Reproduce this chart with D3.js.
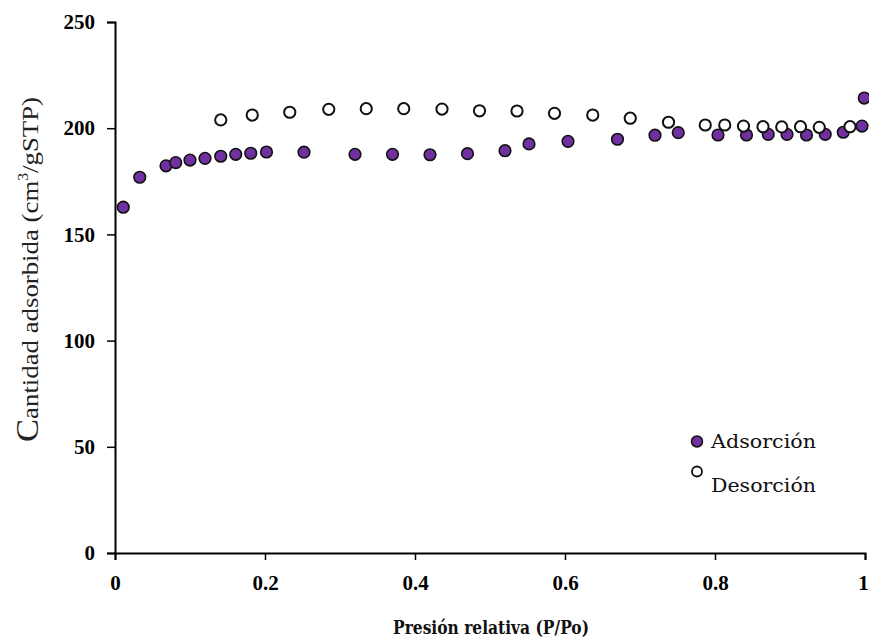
<!DOCTYPE html>
<html>
<head>
<meta charset="utf-8">
<script src="https://cdn.jsdelivr.net/npm/d3@7"></script>
<style>
  html, body { margin: 0; padding: 0; background: #ffffff; }
  svg { display: block; }
</style>
</head>
<body>
<svg id="chart" width="869" height="638"></svg>
<script>
// ---- data ----
const adsX = [0.011,0.033,0.068,0.081,0.100,0.120,0.141,0.161,0.181,0.202,0.252,0.320,0.370,0.420,0.470,0.520,0.552,0.604,0.670,0.720,0.751,0.804,0.842,0.871,0.896,0.922,0.947,0.971,0.996,0.999];
const adsY = [162.8,176.9,182.3,183.8,185.0,185.8,186.8,187.7,188.2,188.8,188.7,187.7,187.7,187.5,188.0,189.4,192.6,193.8,194.8,196.7,197.9,196.8,196.8,197.1,197.1,196.8,197.1,198.1,201.0,214.2];
const desX = [0.141,0.183,0.233,0.285,0.335,0.385,0.436,0.486,0.536,0.586,0.637,0.687,0.738,0.787,0.813,0.838,0.864,0.889,0.914,0.939,0.980];
const desY = [203.9,206.2,207.5,208.9,209.2,209.2,209.0,208.2,208.1,207.0,206.2,204.7,202.8,201.5,201.5,201.0,200.7,200.6,200.7,200.4,200.7];
const xTicks = [0, 0.2, 0.4, 0.6, 0.8, 1];
const xTickLabels = ["0", "0.2", "0.4", "0.6", "0.8", "1"];
const yTicks = [0, 50, 100, 150, 200, 250];
const seriesNames = ["Adsorción", "Desorción"];
const xTitle = "Presión relativa (P/Po)";

// ---- layout ----
const svg = d3.select("#chart");
const x = d3.scaleLinear().domain([0, 1]).range([115, 865]);
const y = d3.scaleLinear().domain([0, 250]).range([553, 22]);
const purple = "#7030A0";

// axes
const xAxis = d3.axisBottom(x).tickValues(xTicks).tickFormat((d, i) => xTickLabels[i]).tickSizeOuter(0).tickSize(7).tickPadding(15);
const yAxis = d3.axisLeft(y).tickValues(yTicks).tickFormat(d3.format("d")).tickSizeOuter(0).tickSize(8).tickPadding(12);

const gx = svg.append("g").attr("transform", `translate(0,${y(0)})`).call(xAxis);
const gy = svg.append("g").attr("transform", `translate(${x(0)},0)`).call(yAxis);

[gx, gy].forEach(g => {
  g.select(".domain").attr("stroke", "#000").attr("stroke-width", 2);
  g.selectAll(".tick line").attr("stroke", "#000").attr("stroke-width", 1.5);
  g.selectAll(".tick text")
    .attr("fill", "#000")
    .style("font-family", "'Liberation Serif', 'Times New Roman', serif")
    .style("font-weight", "bold")
    .style("font-size", "21px");
});
// keep the last x label inside the picture
gx.selectAll(".tick text").filter((d, i) => i === xTicks.length - 1).attr("dx", -2);

// data points: adsorption first, desorption on top
svg.append("g").selectAll("circle").data(adsX.map((d, i) => [d, adsY[i]])).join("circle")
  .attr("cx", d => x(d[0])).attr("cy", d => y(d[1])).attr("r", 5.8)
  .attr("fill", purple).attr("stroke", "#111").attr("stroke-width", 1.6);

svg.append("g").selectAll("circle").data(desX.map((d, i) => [d, desY[i]])).join("circle")
  .attr("cx", d => x(d[0])).attr("cy", d => y(d[1])).attr("r", 5.6)
  .attr("fill", "#fff").attr("stroke", "#111").attr("stroke-width", 2);

// legend
const lg = svg.append("g");
lg.append("circle").attr("cx", 697).attr("cy", 441.5).attr("r", 5.5).attr("fill", purple).attr("stroke", "#111").attr("stroke-width", 1.5);
lg.append("circle").attr("cx", 697).attr("cy", 471.5).attr("r", 5).attr("fill", "#fff").attr("stroke", "#111").attr("stroke-width", 1.8);
lg.append("text").attr("x", 711).attr("y", 448).text(seriesNames[0])
  .style("font-family", "'DejaVu Serif', serif").style("font-size", "19px").attr("fill", "#111")
  .attr("textLength", 105).attr("lengthAdjust", "spacingAndGlyphs");
lg.append("text").attr("x", 711).attr("y", 492).text(seriesNames[1])
  .style("font-family", "'DejaVu Serif', serif").style("font-size", "19px").attr("fill", "#111")
  .attr("textLength", 105).attr("lengthAdjust", "spacingAndGlyphs");

// x title
svg.append("text").attr("x", 393).attr("y", 634).text(xTitle)
  .style("font-family", "'DejaVu Serif', serif").style("font-weight", "bold").style("font-size", "19px")
  .attr("fill", "#111").attr("textLength", 196).attr("lengthAdjust", "spacingAndGlyphs");

// y title
const yt = svg.append("text")
  .attr("transform", "translate(38,442) rotate(-90)")
  .attr("x", 0).attr("y", 0)
  .attr("textLength", 345).attr("lengthAdjust", "spacingAndGlyphs")
  .style("font-family", "'Liberation Serif', 'Times New Roman', serif")
  .attr("fill", "#222");
yt.append("tspan").style("font-size", "31px").text("C");
yt.append("tspan").style("font-size", "24px").text("antidad adsorbida (cm");
yt.append("tspan").style("font-size", "14px").attr("dy", -10).text("3");
yt.append("tspan").style("font-size", "24px").attr("dy", 10).text("/gSTP)");
</script>
</body>
</html>
